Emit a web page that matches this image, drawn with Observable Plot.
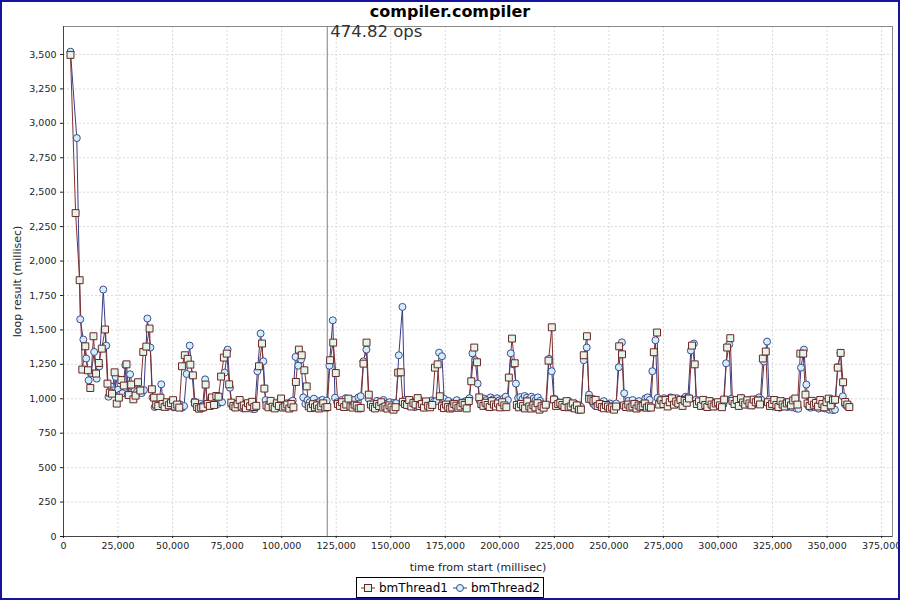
<!DOCTYPE html>
<html><head><meta charset="utf-8">
<script src="https://cdn.jsdelivr.net/npm/d3@7"></script>
<script src="https://cdn.jsdelivr.net/npm/@observablehq/plot@0.6"></script>
<style>
html,body{margin:0;padding:0;background:#fff;}
#wrap{position:relative;width:900px;height:600px;overflow:hidden;background:#fff;font-family:"DejaVu Sans",sans-serif;}
#border{position:absolute;left:0;top:0;width:900px;height:600px;box-sizing:border-box;border:2px solid #14149c;pointer-events:none;}
#title{position:absolute;left:0;top:1px;width:900px;text-align:center;font-weight:bold;font-size:16px;line-height:22px;color:#000;}
#chart{position:absolute;left:0;top:20px;}
#chart [aria-label="x-axis label"], #chart [aria-label="y-axis label"]{font-size:11px;}
#legend{position:absolute;left:356px;top:577px;width:188px;height:21px;box-sizing:border-box;border:1px solid #000;font-size:12px;color:#000;}
#legend .it{position:absolute;top:2px;display:flex;align-items:center;height:15px;}
#legend svg{display:block;margin-right:3px;}
</style>
</head><body>
<div id="wrap">
  <div id="title"></div>
  <div id="chart"></div>
  <div id="legend"></div>
  <div id="border"></div>
</div>
<script>
const chartTitle = "compiler.compiler";
const xLabel = "time from start (millisec)";
const yLabel = "loop result (millisec)";
const seriesNames = ["bmThread1", "bmThread2"];
const xTicks = [0, 25000, 50000, 75000, 100000, 125000, 150000, 175000, 200000, 225000, 250000, 275000, 300000, 325000, 350000, 375000];
const yTicks = [0, 250, 500, 750, 1000, 1250, 1500, 1750, 2000, 2250, 2500, 2750, 3000, 3250, 3500];
const markerTime = 120900;
const markerLabel = "474.82 ops";
// time of each thread's first reported loop (ms); later points follow after each loop's duration
const start1 = 3200;
const start2 = 3200;
// loop results (ms), in order
const thread1 = [
3497, 2348, 1861, 1212, 1381, 1207, 1078, 1454, 1183, 1260, 1364, 1503, 1110, 1045, 1037, 1192, 965, 1008, 1136, 1096, 1250, 1027, 1103, 996, 1023, 1120, 1060, 1340, 1379, 1510, 1069, 1008,
957, 947, 1008, 962, 941, 975, 953, 968, 990, 944, 958, 936,
1236, 1316, 1290, 1248, 1170,
972, 940, 928, 935, 938,
1103,
963, 948, 1010, 955, 1020, 1015,
1161, 1299, 1328, 1105,
972, 948, 937, 960, 991, 944, 952, 931, 968, 945, 978, 940, 949,
1236, 1401, 1074,
951, 938, 985, 942, 930, 967, 948, 1002, 936, 944, 958, 929, 962, 938,
1122, 1357, 1316, 1207, 1090,
945, 932, 961, 938, 952, 929, 944, 967, 936, 940,
1280, 1408, 1187,
962, 948, 975, 940, 958, 1001, 944, 936, 957, 949, 930, 934,
1255, 1408, 1030,
958, 941, 930, 962, 947, 975, 936, 944, 929, 952, 938, 921, 939,
1190, 1192,
978, 962, 955, 991, 944, 970, 958, 1005, 947, 962, 936, 981, 949, 938, 955,
1226, 1250, 1018,
946, 932, 958, 941, 929, 937, 962, 950, 934, 944, 968, 955, 930, 984,
1127, 1372, 1265,
1010, 962, 948, 971, 955, 940, 983, 958, 944, 966, 938, 975, 952, 939,
1154, 1437, 1258,
955, 938, 962, 947, 930, 981, 944, 929, 952, 937, 968, 921, 946, 935, 957,
1277, 1519,
994, 948, 962, 971, 955, 940, 983, 938, 944, 966, 930, 952, 921, 921,
1316, 1454,
1000, 996, 985, 992, 948, 962, 940, 931, 955, 944, 929, 938, 921, 944,
1381, 1323,
952, 940, 958, 936, 944, 962, 929, 951, 938, 947, 966, 935, 945, 936,
1338, 1481,
958, 989, 962, 991, 944, 975, 1003, 957, 980, 966, 992, 948, 985, 971, 1002,
1386, 1250,
962, 981, 948, 992, 955, 940, 983, 958, 944, 966, 975, 952, 939, 994,
1372, 1440,
985, 962, 991, 948, 1004, 973, 958, 989, 966, 952, 994, 975, 987, 959,
1292, 1343,
975, 948, 962, 991, 955, 940, 983, 958, 944, 966, 975, 952, 988, 1002, 958,
1328, 1328, 1030,
966, 948, 985, 957, 970, 944, 991, 962, 938, 975, 1001, 952, 990, 993,
1226, 1333, 1120, 977, 958, 940
];
const thread2 = [
3520, 2893, 1577, 1430, 1292, 1134, 1187, 1340, 1146, 1235, 1793, 1386, 1015, 1090, 1061, 1158, 1066, 1032, 1040, 1245, 1032, 1178, 1090, 1061, 1050, 1042, 1041, 1063,
1583, 1372, 1010, 940, 960, 965, 1105,
948, 962, 940, 955, 971, 938, 944, 952, 960, 935, 947,
1180, 1386, 1170,
980, 945, 938, 962, 950,
1141,
960, 948, 1002, 955, 990, 962, 975, 975,
1190, 1357, 1080,
950, 938, 962, 944, 975, 931, 948, 957, 940, 966, 925, 925,
1200, 1474, 1272, 990,
958, 944, 971, 962, 935, 949, 980, 953, 941, 967, 938, 975, 986,
1304, 1240, 1285, 1010,
962, 990, 975, 948, 1001, 969, 957, 985, 992, 960, 986,
1240, 1570, 1008,
975, 962, 990, 958, 1004, 971, 985, 966, 992, 948, 1010, 1019,
1272, 1357, 1000,
958, 971, 944, 985, 962, 950, 991, 938, 967, 975, 948, 970, 968,
1316, 1667, 990,
962, 948, 985, 971, 940, 955, 992, 966, 938, 975, 951, 944, 988, 980, 983,
1335, 1309, 1000,
962, 985, 948, 971, 955, 990, 966, 944, 975, 982, 958, 1004,
1330, 1280, 1110,
985, 971, 1002, 990, 968, 1010, 995, 979, 1004, 988, 962, 1001, 1015, 990,
1330, 1250, 1110,
1005, 1012, 998, 1020, 1008, 995, 1015, 1002, 990, 1010, 985, 960, 948, 952,
1290, 1200, 1000,
985, 962, 948, 971, 955, 940, 983, 938, 944, 966, 930, 952, 941,
1280, 1372, 1030,
995, 962, 948, 971, 955, 940, 983, 938, 944, 966, 930, 952, 966,
1229, 1410, 1040,
962, 985, 948, 991, 955, 970, 983, 958, 944, 1002, 1010, 992,
1200, 1425, 1006,
985, 962, 1004, 990, 968, 1010, 995, 979, 1004, 988, 962, 1001, 1015, 1011,
1350, 1401, 994,
975, 962, 948, 991, 955, 940, 983, 958, 944, 966, 975, 952, 958,
1258, 1394, 1000,
985, 962, 991, 948, 1004, 973, 958, 989, 966, 952, 994, 975, 1010, 994,
1270, 1415, 994,
958, 944, 971, 962, 935, 949, 980, 953, 941, 967, 938, 975, 930, 927,
1226, 1357, 1103,
948, 935, 962, 940, 951, 929, 944, 938, 930, 955, 921, 936, 918, 920,
1230, 1333, 1018, 960, 945, 950
];

const col1 = {line: "#7f3030", stroke: "#6a2424", fill: "#e2f5ea"};
const col2 = {line: "#3a3c86", stroke: "#3e4c8e", fill: "#d3effb"};

function toRows(name, start, vals) {
  const rows = [];
  let t = start;
  vals.forEach((v, i) => { if (i > 0) t += v; rows.push({series: name, time: t, value: v}); });
  return rows;
}
const data1 = toRows(seriesNames[0], start1, thread1);
const data2 = toRows(seriesNames[1], start2, thread2);

document.getElementById("title").textContent = chartTitle;

const chart = Plot.plot({
  width: 900, height: 560,
  marginTop: 6, marginLeft: 63, marginRight: 8, marginBottom: 44,
  style: {fontFamily: "'DejaVu Sans', sans-serif", fontSize: "9.5px", color: "#222", background: "transparent", overflow: "visible"},
  x: {domain: [0, 380000]},
  y: {domain: [0, 3703]},
  marks: [
    Plot.gridX(xTicks, {stroke: "#dadada", strokeOpacity: 1, strokeDasharray: "2,2"}),
    Plot.gridY(yTicks, {stroke: "#dadada", strokeOpacity: 1, strokeDasharray: "2,2"}),
    Plot.frame({stroke: "#8a8a8a"}),
    Plot.ruleY([0], {stroke: "#444"}),
    Plot.ruleX([0], {stroke: "#444"}),
    Plot.axisX(xTicks, {tickFormat: d3.format(","), tickSize: 2, tickPadding: 4, label: xLabel, labelAnchor: "center", labelArrow: false, labelOffset: 34}),
    Plot.axisY(yTicks, {tickFormat: d3.format(","), tickSize: 3, tickPadding: 4, label: yLabel, labelAnchor: "center", labelArrow: false, labelOffset: 50}),
    Plot.ruleX([markerTime], {stroke: "#808080"}),
    Plot.text([{t: markerTime, label: markerLabel}], {x: "t", text: "label", frameAnchor: "top", textAnchor: "start", lineAnchor: "top", dx: 3, dy: -1, fontSize: 16.5, fill: "#333"}),
    Plot.line(data2, {x: "time", y: "value", stroke: col2.line, strokeWidth: 1}),
    Plot.line(data1, {x: "time", y: "value", stroke: col1.line, strokeWidth: 1}),
    Plot.dot(data2, {x: "time", y: "value", r: 3.5, fill: col2.fill, stroke: col2.stroke, strokeWidth: 1}),
    Plot.dot(data1, {x: "time", y: "value", symbol: "square", r: 3.9, fill: col1.fill, stroke: col1.stroke, strokeWidth: 1})
  ]
});
document.getElementById("chart").appendChild(chart);

// legend
const legend = document.getElementById("legend");
const items = [
  {name: seriesNames[0], left: 3, c: col1, shape: "square"},
  {name: seriesNames[1], left: 95, c: col2, shape: "circle"}
];
items.forEach(it => {
  const d = document.createElement("div");
  d.className = "it";
  d.style.left = it.left + "px";
  const ns = "http://www.w3.org/2000/svg";
  const s = document.createElementNS(ns, "svg");
  s.setAttribute("width", 16); s.setAttribute("height", 12);
  const ln = document.createElementNS(ns, "line");
  ln.setAttribute("x1", 1); ln.setAttribute("x2", 15); ln.setAttribute("y1", 6); ln.setAttribute("y2", 6);
  ln.setAttribute("stroke", it.c.line);
  s.appendChild(ln);
  let m;
  if (it.shape === "square") {
    m = document.createElementNS(ns, "rect");
    m.setAttribute("x", 4.5); m.setAttribute("y", 2.5); m.setAttribute("width", 7); m.setAttribute("height", 7);
  } else {
    m = document.createElementNS(ns, "circle");
    m.setAttribute("cx", 8); m.setAttribute("cy", 6); m.setAttribute("r", 3.5);
  }
  m.setAttribute("fill", it.c.fill); m.setAttribute("stroke", it.c.stroke);
  s.appendChild(m);
  d.appendChild(s);
  const tx = document.createElement("span");
  tx.textContent = it.name;
  d.appendChild(tx);
  legend.appendChild(d);
});
</script>
</body></html>
